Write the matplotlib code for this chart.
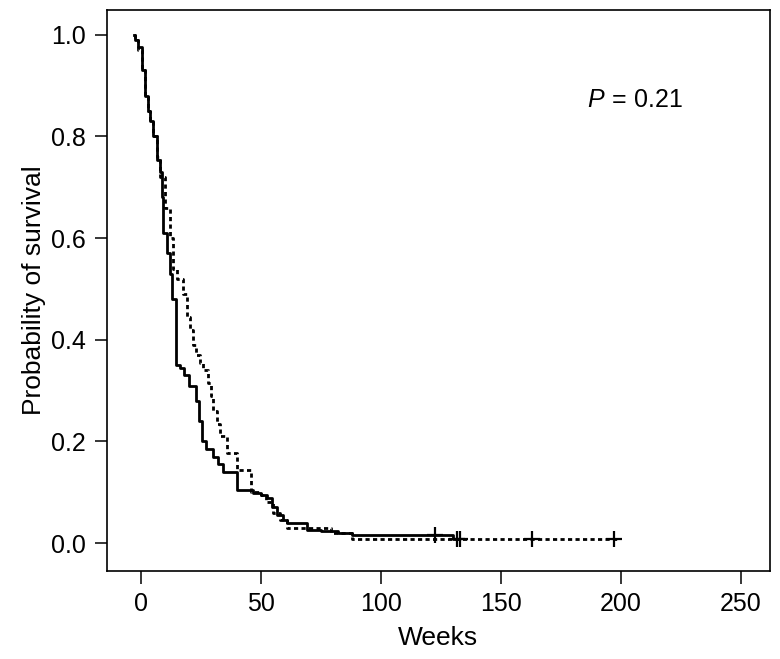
import matplotlib
matplotlib.use("Agg")
import matplotlib.pyplot as plt
import numpy as np

# Kaplan-Meier step points (weeks, survival)
solid_t = [-3, -2.5, -1.3, 0.3, 1.7, 3.0, 3.8, 5.0, 6.5, 7.9, 8.6, 9.2, 10.7,
           12.1, 12.8, 14.5, 16.3, 18.0, 20.0, 23.0, 24.3, 25.3, 27.0, 30.0,
           32.0, 34.0, 40.0, 46.7, 50.0, 52.5, 54.5, 56.7, 59.0, 61.0, 69.0,
           75.0, 82.0, 88.0, 130.0, 131.7]
solid_s = [1.00, 0.99, 0.976, 0.93, 0.88, 0.85, 0.83, 0.80, 0.754, 0.73, 0.68,
           0.61, 0.57, 0.53, 0.48, 0.35, 0.345, 0.33, 0.31, 0.28, 0.24, 0.20,
           0.185, 0.17, 0.155, 0.14, 0.105, 0.098, 0.095, 0.088, 0.07, 0.055,
           0.045, 0.04, 0.026, 0.024, 0.02, 0.016, 0.008, 0.008]
solid_cens_t = [122.5, 131.7]
solid_cens_s = [0.016, 0.008]

dot_t = [-3, -2.5, -1.3, 0.3, 1.7, 3.0, 3.8, 5.0, 6.5, 7.9, 10.0, 12.0, 13.5,
         15.0, 17.5, 19.0, 20.5, 21.7, 23.0, 24.6, 26.0, 28.0, 29.0, 30.0,
         31.5, 33.0, 35.7, 39.9, 46.0, 50.0, 52.0, 55.0, 58.0, 61.0, 79.0,
         88.0, 199.0]
dot_s = [1.00, 0.99, 0.97, 0.93, 0.88, 0.85, 0.83, 0.80, 0.76, 0.72, 0.66,
         0.60, 0.54, 0.52, 0.49, 0.445, 0.42, 0.39, 0.37, 0.354, 0.34, 0.315,
         0.29, 0.26, 0.235, 0.21, 0.177, 0.144, 0.10, 0.095, 0.08, 0.06, 0.045,
         0.03, 0.02, 0.008, 0.008]
dot_cens_t = [133.0, 163.0, 197.0]
dot_cens_s = [0.008, 0.008, 0.008]

p_text = "0.21"

plt.rcParams['font.family'] = ['Liberation Sans', 'DejaVu Sans']
plt.rcParams['mathtext.fontset'] = 'custom'
plt.rcParams['mathtext.rm'] = 'Liberation Sans'
plt.rcParams['mathtext.it'] = 'Liberation Sans:italic'

fig = plt.figure(figsize=(7.8, 6.59), dpi=100)
ax = fig.add_axes([0.137, 0.1335, 0.85, 0.8515])

ax.plot(dot_t, dot_s, drawstyle='steps-post', color='black', lw=2.0,
        linestyle=(0, (1.5, 1.2)))
ax.plot(solid_t, solid_s, drawstyle='steps-post', color='black', lw=2.0)
ax.plot(solid_cens_t, solid_cens_s, linestyle='none', marker='+',
        color='black', ms=11, mew=1.6)
ax.plot(dot_cens_t, dot_cens_s, linestyle='none', marker='+',
        color='black', ms=11, mew=1.6)

ax.set_xlim(-14.2, 262)
ax.set_ylim(-0.055, 1.049)
ax.set_xticks([0, 50, 100, 150, 200, 250])
ax.set_yticks([0.0, 0.2, 0.4, 0.6, 0.8, 1.0])
ax.set_yticklabels(["0.0", "0.2", "0.4", "0.6", "0.8", "1.0"])
ax.tick_params(direction='out', length=9, width=1.1, labelsize=18, pad=6)
for sp in ax.spines.values():
    sp.set_linewidth(1.2)

ax.set_xlabel("Weeks", fontsize=19, labelpad=7)
ax.set_ylabel("Probability of survival", fontsize=19, labelpad=4)

ax.text(206, 0.872, r"$P\,=\,$" + p_text, fontsize=18, ha='center',
        va='center')

plt.savefig("out.png", dpi=100)
